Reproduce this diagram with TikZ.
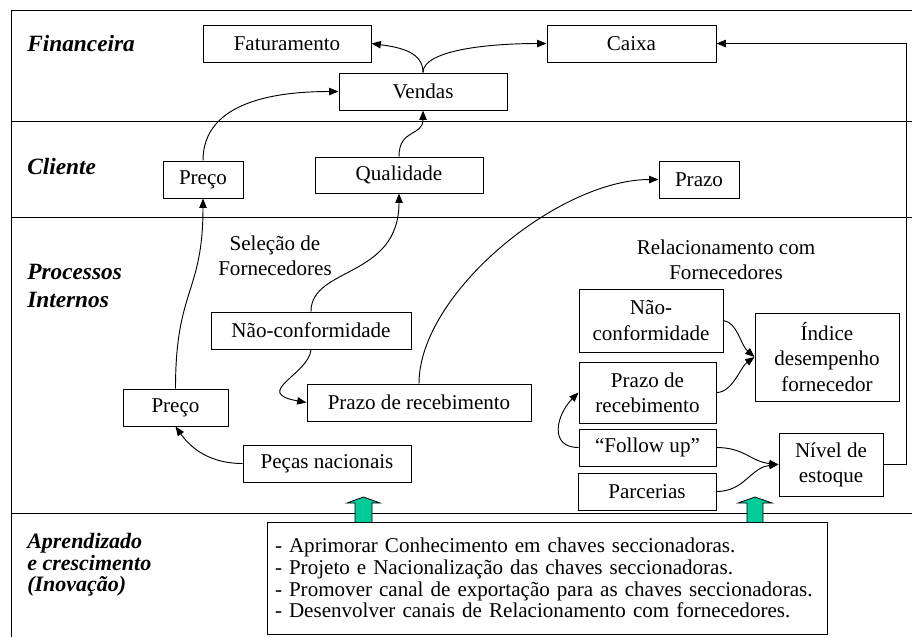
\documentclass[tikz,border=0pt]{standalone}
\usepackage{fontspec}
\setmainfont{Liberation Serif}
\usetikzlibrary{arrows.meta}
\newcommand{\txtfont}{\fontsize{15.8}{18.8}\selectfont}
\newcommand{\lanefont}{\fontsize{17.5}{21}\selectfont\bfseries\itshape}
\newcommand{\acaofont}{\fontsize{15.8}{16.3}\selectfont}
\definecolor{setaverde}{RGB}{0,204,153}

\begin{document}
\begin{tikzpicture}[x=0.75pt,y=0.75pt,yscale=-1,xscale=1,
  box/.style={draw, line width=0.75pt, inner sep=0pt, align=center, font=\txtfont},
  lane/.style={anchor=west, inner sep=0pt, align=left, font=\lanefont},
  seta/.style={line width=0.7pt, -{Triangle[length=7pt,width=5.5pt]}}]
\useasboundingbox (0,0) rectangle (912,637);

%Straight Lines: frame and lanes
\draw [line width=0.75pt] (912,10) -- (11,10) -- (11,637) ;
\draw [line width=0.75pt] (11,121) -- (912,121) ;
\draw [line width=0.75pt] (11,217.5) -- (912,217.5) ;
\draw [line width=0.75pt] (11,513) -- (912,513) ;

% Text Node: lanes
\node [lane] (financeira) at (27,44) {Financeira};
\node [lane] (cliente) at (27,167) {Cliente};
\node [lane] (processos) at (27,286) {Processos\\Internos};
\node [lane, font=\fontsize{16.5}{16.2}\selectfont\bfseries\itshape] (aprendizado) at (27,565) {Aprendizado\\e crescimento\\(Inovação)};

%Shape: Rectangle  -- financeira
\node [box, minimum width=126pt, minimum height=27.75pt] (fat) at (287,43.5) {Faturamento};
\node [box, minimum width=126.75pt, minimum height=27.75pt] (caixa) at (631.5,43.5) {Caixa};
\node [box, minimum width=126pt, minimum height=27.75pt] (vendas) at (423,91.5) {Vendas};
%Shape: Rectangle  -- cliente
\node [box, minimum width=60pt, minimum height=27.75pt] (precoc) at (203,179.5) {Preço};
\node [box, minimum width=126pt, minimum height=27pt] (qual) at (399,175) {Qualidade};
\node [box, minimum width=60pt, minimum height=27.75pt] (prazoc) at (699,179.5) {Prazo};
%Shape: Rectangle  -- processos internos
\node [inner sep=0pt, align=center, font=\txtfont] (selecao) at (275,255.5) {Seleção de\\Fornecedores};
\node [inner sep=0pt, align=center, font=\txtfont] (relac) at (726,259.5) {Relacionamento com\\Fornecedores};
\node [box, minimum width=150pt, minimum height=27.75pt] (nconfl) at (311,330.5) {Não-conformidade};
\node [box, minimum width=168pt, minimum height=27.75pt] (prazorl) at (419,402.5) {Prazo de recebimento};
\node [box, minimum width=78.75pt, minimum height=27.75pt] (precop) at (175.5,407.5) {Preço};
\node [box, minimum width=126pt, minimum height=27.75pt] (pecas) at (327,463.5) {Peças nacionais};
\node [box, minimum width=108pt, minimum height=47.25pt] (nconfr) at (651,320.5) {Não-\\conformidade};
\node [box, minimum width=108pt, minimum height=66pt] (indice) at (827,357) {Índice\\desempenho\\fornecedor};
\node [box, minimum width=102.75pt, minimum height=45.75pt] (prazorr) at (647.5,392.5) {Prazo de\\recebimento};
\node [box, minimum width=102.75pt, minimum height=27.75pt] (follow) at (647.5,447.5) {“Follow up”};
\node [box, minimum width=103.5pt, minimum height=27.75pt] (parc) at (647,491.5) {Parcerias};
\node [box, minimum width=78pt, minimum height=47.25pt] (nivel) at (831,464.5) {Nível de\\estoque};
%Shape: Rectangle  -- aprendizado
\node [box, minimum width=420pt, minimum height=84pt, align=left, text width=408pt, font=\acaofont] (acoes) at (547,578) {- Aprimorar Conhecimento em chaves seccionadoras.\\- Projeto e Nacionalização das chaves seccionadoras.\\- Promover canal de exportação para as chaves seccionadoras.\\- Desenvolver canais de Relacionamento com fornecedores.};

%Shape: Up Arrow
\draw [fill=setaverde, line width=0.6pt] (355,522) -- (355,503) -- (347,503) -- (363.5,497) -- (380,503) -- (372,503) -- (372,522) ;
\draw [fill=setaverde, line width=0.6pt] (747,522) -- (747,503) -- (738,503) -- (755,497) -- (772,503) -- (763,503) -- (763,522) ;

%Curve Lines
\draw [seta] (vendas.north) .. controls +(0,-20) and +(30,4) .. (fat.east) ;
\draw [seta] (vendas.north) .. controls +(0,-22) and +(-60,0) .. (caixa.west) ;
\draw [seta] (precoc.north) .. controls +(0,-60) and +(-60,0) .. (vendas.west) ;
\draw [seta] (qual.north) .. controls +(0,-28) and +(0,26) .. (vendas.south) ;
\draw [seta] (precop.north) .. controls +(0,-100) and +(0,95) .. (precoc.south) ;
\draw [seta] (nconfl.north) .. controls +(0,-45) and +(0,85) .. (qual.south) ;
\draw [seta] (nconfl.south) .. controls +(-2,25) and +(-55,-10) .. (prazorl.west) ;
\draw [seta] (prazorl.north) .. controls +(0,-90) and +(-100,0) .. (prazoc.west) ;
\draw [seta] (pecas.west) .. controls +(-40,0) and +(10,14) .. (precop.south) ;
\draw [seta] (nconfr.east) .. controls +(14,2) and +(-14,-12) .. (indice.west) ;
\draw [seta] (prazorr.east) .. controls +(16,0) and +(-14,10) .. (indice.west) ;
\draw [seta] (follow.west) .. controls +(-30,0) and +(-22,22) .. (prazorr.west) ;
\draw [seta] (follow.east) .. controls +(28,0) and +(-28,-3) .. (nivel.west) ;
\draw [seta] (parc.east) .. controls +(28,0) and +(-28,3) .. (nivel.west) ;
%Straight Lines
\draw [seta] (nivel.east) -- ++(23,0) |- (caixa.east) ;

\end{tikzpicture}
\end{document}
